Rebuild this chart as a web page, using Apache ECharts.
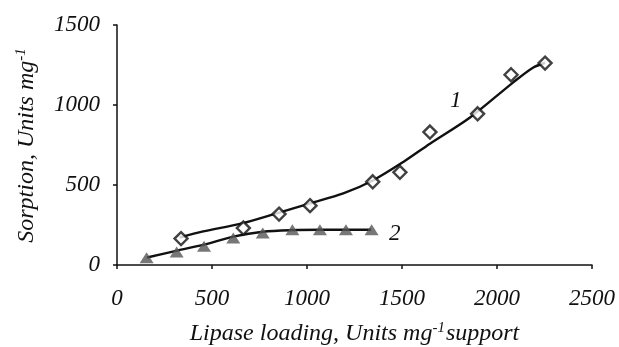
<!DOCTYPE html>
<html>
<head>
<meta charset="utf-8">
<script src="https://cdn.jsdelivr.net/npm/echarts@6/dist/echarts.min.js"></script>
<style>
  html, body { margin: 0; padding: 0; background: #fff; }
  #chart { width: 619px; height: 347px; }
</style>
</head>
<body>
<div id="chart"></div>
<script>
// measured points, series 1 (open diamonds)
const s1X = [337, 665, 853, 1016, 1346, 1489, 1647, 1898, 2074, 2253]
const s1Y = [165, 231, 318, 371, 520, 579, 831, 945, 1189, 1262]
// series 2 (filled triangles)
const s2X = [156, 314, 458, 612, 767, 923, 1068, 1205, 1340]
const s2Y = [45, 82, 117, 169, 200, 220, 220, 220, 220]
// trend curves
const fit1X = [330, 454, 647, 840, 1016, 1191, 1349, 1507, 1647, 1858, 2084, 2189, 2253]
const fit1Y = [172, 210, 257, 323, 385, 447, 530, 644, 758, 922, 1140, 1233, 1264]
const fit2X = [158, 316, 458, 612, 768, 921, 1068, 1337]
const fit2Y = [47, 90, 127, 177, 208, 218, 220, 220]

const xTicks = [0, 500, 1000, 1500, 2000, 2500]
const yTicks = [0, 500, 1000, 1500]

const zip = (xs, ys) => xs.map((x, i) => [x, ys[i]])

const font = 'Liberation Serif'
const ink = '#111'

const chart = echarts.init(document.getElementById('chart'))

const nameRich = {
  n: { fontFamily: font, fontStyle: 'italic', fontSize: 24, color: ink },
  s: { fontFamily: font, fontStyle: 'italic', fontSize: 15, color: ink, verticalAlign: 'top', padding: [0, 1, 10, 0] }
}

const option = {
  animation: false,
  grid: { left: 117, right: 27, top: 25, bottom: 82, outerBoundsMode: 'none' },
  xAxis: {
    type: 'value',
    min: xTicks[0],
    max: xTicks[xTicks.length - 1],
    interval: 500,
    splitLine: { show: false },
    axisLine: { lineStyle: { color: ink, width: 1.5 } },
    axisTick: { show: true, length: 4, lineStyle: { color: ink, width: 1.5 } },
    axisLabel: {
      margin: 22, color: ink, fontFamily: font, fontStyle: 'italic', fontSize: 23,
      formatter: v => String(v)
    },
    name: '{n|Lipase loading, Units mg}{s|-1}{n|support}',
    nameLocation: 'middle',
    nameGap: 56,
    nameTextStyle: { rich: nameRich }
  },
  yAxis: {
    type: 'value',
    min: yTicks[0],
    max: yTicks[yTicks.length - 1],
    interval: 500,
    splitLine: { show: false },
    axisLine: { show: true, lineStyle: { color: ink, width: 1.5 } },
    axisTick: { show: true, length: 4, lineStyle: { color: ink, width: 1.5 } },
    axisLabel: {
      margin: 17, color: ink, fontFamily: font, fontStyle: 'italic', fontSize: 23,
      formatter: v => String(v)
    },
    name: '{n|Sorption, Units mg}{s|-1}',
    nameLocation: 'middle',
    nameRotate: 90,
    nameGap: 78,
    nameTextStyle: { rich: nameRich }
  },
  series: [
    {
      name: 'fit1',
      type: 'line',
      smooth: 0.3,
      data: zip(fit1X, fit1Y),
      showSymbol: false,
      lineStyle: { color: ink, width: 2.4 },
      z: 2
    },
    {
      name: 'fit2',
      type: 'line',
      smooth: 0.3,
      data: zip(fit2X, fit2Y),
      showSymbol: false,
      lineStyle: { color: ink, width: 2.4 },
      z: 2
    },
    {
      name: '1',
      type: 'scatter',
      data: zip(s1X, s1Y),
      symbol: 'diamond',
      symbolSize: 13,
      itemStyle: { color: '#fff', borderColor: ink, borderWidth: 2.4 },
      z: 3
    },
    {
      name: '2',
      type: 'scatter',
      data: zip(s2X, s2Y),
      symbol: 'triangle',
      symbolSize: [14, 11],
      itemStyle: { color: '#555' },
      z: 3
    }
  ],
  graphic: [
    { type: 'text', left: 450, top: 89, style: { text: '1', font: 'italic 23px "Liberation Serif"', fill: ink } },
    { type: 'text', left: 389, top: 222, style: { text: '2', font: 'italic 23px "Liberation Serif"', fill: ink } }
  ]
}

chart.setOption(option)
</script>
</body>
</html>
